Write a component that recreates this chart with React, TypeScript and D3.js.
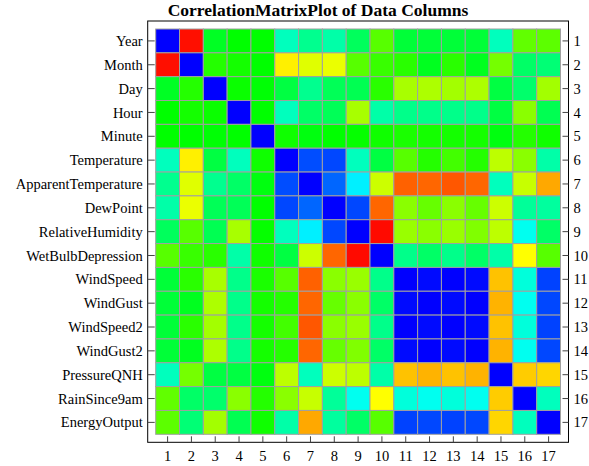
import React from "react";
import * as d3 from "d3";

const labels: string[] = [
  "Year", "Month", "Day", "Hour", "Minute", "Temperature", "ApparentTemperature",
  "DewPoint", "RelativeHumidity", "WetBulbDepression", "WindSpeed", "WindGust",
  "WindSpeed2", "WindGust2", "PressureQNH", "RainSince9am", "EnergyOutput",
];

const tickNumbers: string[] = labels.map((_, i) => String(i + 1));

const corr: number[][] = [
  [1, -0.97, 0.07, 0.0, 0.0, 0.37, 0.28, 0.33, 0.18, -0.17, 0.11, 0.11, 0.11, 0.11, 0.37, -0.19, -0.18],
  [-0.97, 1, -0.07, -0.04, 0.0, -0.53, -0.44, -0.46, -0.17, -0.11, -0.08, 0.06, -0.08, 0.06, -0.23, 0.2, 0.23],
  [0.07, -0.07, 1, -0.02, 0.01, 0.13, 0.28, 0.17, 0.16, -0.08, -0.33, -0.34, -0.32, -0.34, 0.13, 0.21, -0.32],
  [0.0, -0.04, -0.02, 1, 0.0, 0.37, 0.2, 0.17, -0.33, 0.33, 0.27, 0.27, 0.27, 0.27, 0.13, -0.27, 0.16],
  [0.0, 0.0, 0.01, 0.0, 1, -0.03, 0.03, 0.0, -0.01, -0.03, -0.05, -0.04, -0.04, -0.04, 0.03, -0.07, -0.03],
  [0.37, -0.53, 0.13, 0.37, -0.03, 1, 0.85, 0.86, 0.37, 0.13, -0.17, -0.07, -0.13, -0.07, -0.37, -0.27, 0.33],
  [0.28, -0.44, 0.28, 0.2, 0.03, 0.85, 1, 0.8, 0.53, -0.4, -0.81, -0.8, -0.83, -0.8, 0.37, -0.39, -0.67],
  [0.33, -0.46, 0.17, 0.17, 0.0, 0.86, 0.8, 1, 0.86, -0.8, -0.27, -0.2, -0.27, -0.2, -0.4, 0.3, 0.31],
  [0.18, -0.17, 0.16, -0.33, -0.01, 0.37, 0.53, 0.86, 1, -0.98, -0.3, -0.27, -0.3, -0.25, -0.37, 0.47, 0.2],
  [-0.17, -0.11, -0.08, 0.33, -0.03, 0.13, -0.4, -0.8, -0.98, 1, 0.27, 0.2, 0.27, 0.2, 0.33, -0.5, -0.17],
  [0.11, -0.08, -0.33, 0.27, -0.05, -0.17, -0.81, -0.27, -0.3, 0.27, 1, 0.98, 1.0, 0.98, -0.62, 0.43, 0.87],
  [0.11, 0.06, -0.34, 0.27, -0.04, -0.07, -0.8, -0.2, -0.27, 0.2, 0.98, 1, 0.98, 1.0, -0.65, 0.47, 0.86],
  [0.11, -0.08, -0.32, 0.27, -0.04, -0.13, -0.83, -0.27, -0.3, 0.27, 1.0, 0.98, 1, 0.98, -0.62, 0.43, 0.87],
  [0.11, 0.06, -0.34, 0.27, -0.04, -0.07, -0.8, -0.2, -0.25, 0.2, 0.98, 1.0, 0.98, 1, -0.65, 0.47, 0.86],
  [0.37, -0.23, 0.13, 0.13, 0.03, -0.37, 0.37, -0.4, -0.37, 0.33, -0.62, -0.65, -0.62, -0.65, 1, -0.6, -0.58],
  [-0.19, 0.2, 0.21, -0.27, -0.07, -0.27, -0.39, 0.3, 0.47, -0.5, 0.43, 0.47, 0.43, 0.47, -0.6, 1, 0.37],
  [-0.18, 0.23, -0.32, 0.16, -0.03, 0.33, -0.67, 0.31, 0.2, -0.17, 0.87, 0.86, 0.87, 0.86, -0.58, 0.37, 1],
];

const W = 589;
const H = 466;
const plot = { left: 155.7, right: 560.5, top: 29, bottom: 434.3 };
const pad = 8;
const font = "'Liberation Serif', 'Times New Roman', serif";

export default function App() {
  const idx = labels.map((_, i) => i);
  const x = d3.scaleBand<number>().domain(idx).range([plot.left, plot.right]);
  const y = d3.scaleBand<number>().domain(idx).range([plot.top, plot.bottom]);
  const hue = d3.scaleLinear().domain([-1, 1]).range([0, 240]).clamp(true);
  const color = (v: number) => d3.hsl(hue(v), 1, 0.5).formatHex();

  const fx0 = plot.left - pad;
  const fx1 = plot.right + pad;
  const fy0 = plot.top - pad;
  const fy1 = plot.bottom + pad;
  const bw = x.bandwidth();

  return (
    <svg width={W} height={H} style={{ position: "absolute", left: 0, top: 0 }}>
      <rect x={0} y={0} width={W} height={H} fill="#fff" />
      <text x={318} y={16} textAnchor="middle" fontFamily={font} fontWeight="bold" fontSize={17.5} fill="#000">
        CorrelationMatrixPlot of Data Columns
      </text>
      {corr.map((row, i) =>
        row.map((v, j) => (
          <rect
            key={`${i}-${j}`}
            x={x(j)!}
            y={y(i)!}
            width={bw}
            height={y.bandwidth()}
            fill={color(v)}
            stroke="#a0a0a0"
            strokeWidth={1}
          />
        ))
      )}
      <rect x={fx0} y={fy0} width={fx1 - fx0} height={fy1 - fy0} fill="none" stroke="#000" strokeWidth={1} />
      {idx.map((i) => {
        const cy = y(i)! + y.bandwidth() / 2;
        const cx = x(i)! + bw / 2;
        return (
          <g key={`t${i}`}>
            <line x1={fx0} x2={fx0 + 7} y1={cy} y2={cy} stroke="#444" strokeWidth={1} />
            <line x1={fx1} x2={fx1 - 6} y1={cy} y2={cy} stroke="#444" strokeWidth={1} />
            <line x1={cx} x2={cx} y1={fy1} y2={fy1 - 6} stroke="#444" strokeWidth={1} />
            <text x={fx0 - 5} y={cy} dy="0.35em" textAnchor="end" fontFamily={font} fontSize={14.5} fill="#000">
              {labels[i]}
            </text>
            <text x={fx1 + 5} y={cy} dy="0.35em" textAnchor="start" fontFamily={font} fontSize={14.5} fill="#000">
              {tickNumbers[i]}
            </text>
            <text x={cx} y={fy1 + 18.5} textAnchor="middle" fontFamily={font} fontSize={14.5} fill="#000">
              {tickNumbers[i]}
            </text>
          </g>
        );
      })}
    </svg>
  );
}
